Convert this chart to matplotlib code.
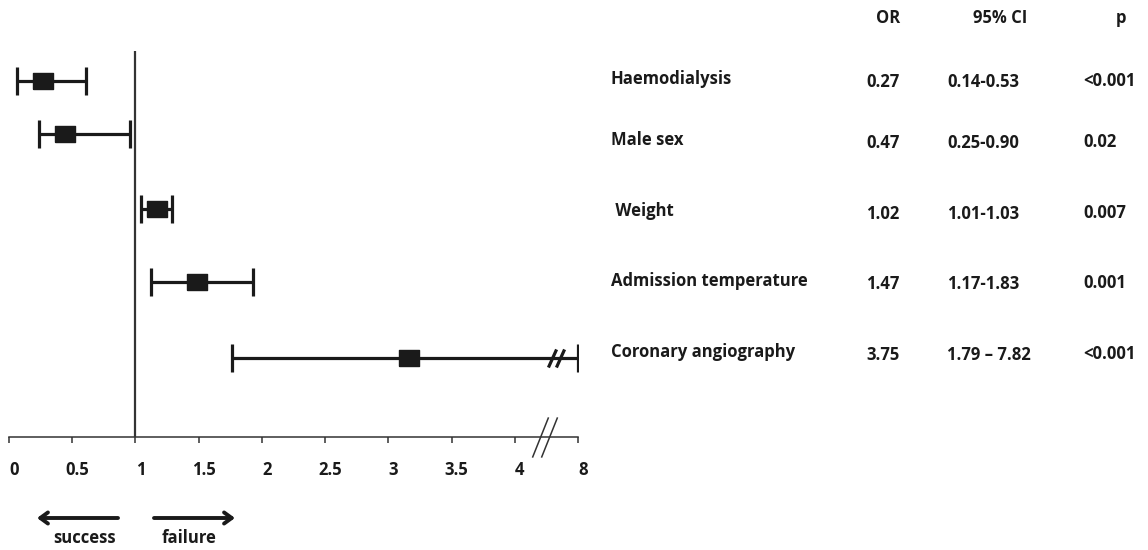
import numpy as np
import matplotlib
matplotlib.use('Agg')
import matplotlib.pyplot as plt
from matplotlib.transforms import ScaledTranslation

OUT = 'out.png'
W, H = 1148, 550

labels = ['Haemodialysis', 'Male sex', ' Weight', 'Admission temperature', 'Coronary angiography']
or_txt = ['0.27', '0.47', '1.02', '1.47', '3.75']
ci_txt = ['0.14-0.53', '0.25-0.90', '1.01-1.03', '1.17-1.83', '1.79 \u2013 7.82']
p_txt = ['<0.001', '0.02', '0.007', '0.001', '<0.001']
# positions of the drawn marks (axis is broken between 4 and 8)
est = [0.27, 0.44, 1.17, 1.49, 3.16]
lo = [0.06, 0.24, 1.04, 1.12, 1.76]
hi = [0.61, 0.96, 1.29, 1.93, 8.0]
xticks = [0, 0.5, 1, 1.5, 2, 2.5, 3, 3.5, 4, 8]
xticklabels = ['0', '0.5', '1', '1.5', '2', '2.5', '3', '3.5', '4', '8']

# layout (pixel rows from the top of the image)
plot_rows = [81, 134, 209, 282, 358]
text_rows = [79, 140, 211, 281, 352]
FONT = 'Open Sans'
INK = '#1a1a1a'
FS = 12


def fx(px):
    return px / W


def fy(py):
    return 1 - py / H


def fwd(x):
    x = np.asarray(x, dtype=float)
    return np.where(x <= 4, x, 4 + (x - 4) / 8)


def inv(t):
    t = np.asarray(t, dtype=float)
    return np.where(t <= 4, t, 4 + (t - 4) * 8)


plt.rcParams['font.family'] = [FONT, 'DejaVu Sans']
plt.rcParams['font.weight'] = 'bold'

fig = plt.figure(figsize=(W / 100, H / 100), dpi=100)
ax = fig.add_axes([fx(9), 113 / H, (578 - 9) / W, (437 - 51) / H])
ax.set_xscale('function', functions=(fwd, inv))
ax.set_xlim(0, 8)
ax.set_ylim(437, 51)

box = [(-1, -0.75), (1, -0.75), (1, 0.75), (-1, 0.75), (-1, -0.75)]
est_a = np.array(est)
xerr = [est_a - np.array(lo), np.array(hi) - est_a]
ax.errorbar(est, plot_rows, xerr=xerr, fmt='none', ecolor=INK, elinewidth=2.3,
            capsize=10, capthick=2.3, zorder=2)
ax.plot(est, plot_rows, linestyle='none', marker=box, markersize=14.5,
        color=INK, markeredgecolor=INK, zorder=3)

ax.axvline(1, color='#333333', lw=1.6, zorder=1)

# break marks on the last whisker and on the axis
slash = [(-0.45, -1), (0.45, 1)]
ax.plot([6.35, 6.85], [plot_rows[-1]] * 2, linestyle='none', marker=slash,
        markersize=13, markeredgewidth=2.3, color=INK, zorder=4)
ax.plot([5.6, 6.15], [437, 437], linestyle='none', marker=[(-0.4, -1), (0.4, 1)],
        markersize=29, markeredgewidth=1.1, color='#333333', clip_on=False, zorder=4)

for s in ['top', 'right', 'left']:
    ax.spines[s].set_visible(False)
ax.spines['bottom'].set_color('#333333')
ax.spines['bottom'].set_linewidth(1.1)
ax.set_yticks([])
ax.set_xticks(xticks)
ax.set_xticklabels(xticklabels)
ax.minorticks_off()
ax.tick_params(axis='x', direction='out', length=4, width=1.1, color='#333333',
               pad=13, labelsize=FS, labelcolor=INK)
shift = ScaledTranslation(5 / 100, 0, fig.dpi_scale_trans)
for lab in ax.get_xticklabels():
    lab.set_transform(lab.get_transform() + shift)

# success / failure arrows
arrow = dict(arrowstyle='->,head_length=0.55,head_width=0.4', lw=2.8, color=INK,
             shrinkA=0, shrinkB=0)
ax.annotate('', xy=(fx(37), fy(518)), xytext=(fx(118), fy(518)),
            xycoords='figure fraction', textcoords='figure fraction', arrowprops=arrow)
ax.annotate('', xy=(fx(235), fy(518)), xytext=(fx(154), fy(518)),
            xycoords='figure fraction', textcoords='figure fraction', arrowprops=arrow)
fig.text(fx(85), fy(538), 'success', ha='center', va='center', fontsize=FS, color=INK)
fig.text(fx(189), fy(538), 'failure', ha='center', va='center', fontsize=FS, color=INK)

# table on the right
fig.text(fx(888), fy(18), 'OR', ha='center', va='center', fontsize=FS, color=INK)
fig.text(fx(1000), fy(18), '95% CI', ha='center', va='center', fontsize=FS, color=INK)
fig.text(fx(1121), fy(18), 'p', ha='center', va='center', fontsize=FS, color=INK)
for i, y in enumerate(text_rows):
    fig.text(fx(611), fy(y), labels[i], ha='left', va='center', fontsize=FS, color=INK)
    fig.text(fx(866), fy(y + 3), or_txt[i], ha='left', va='center', fontsize=FS, color=INK)
    fig.text(fx(947), fy(y + 3), ci_txt[i], ha='left', va='center', fontsize=FS, color=INK)
    fig.text(fx(1083), fy(y + 2), p_txt[i], ha='left', va='center', fontsize=FS, color=INK)

fig.savefig(OUT, dpi=100)
